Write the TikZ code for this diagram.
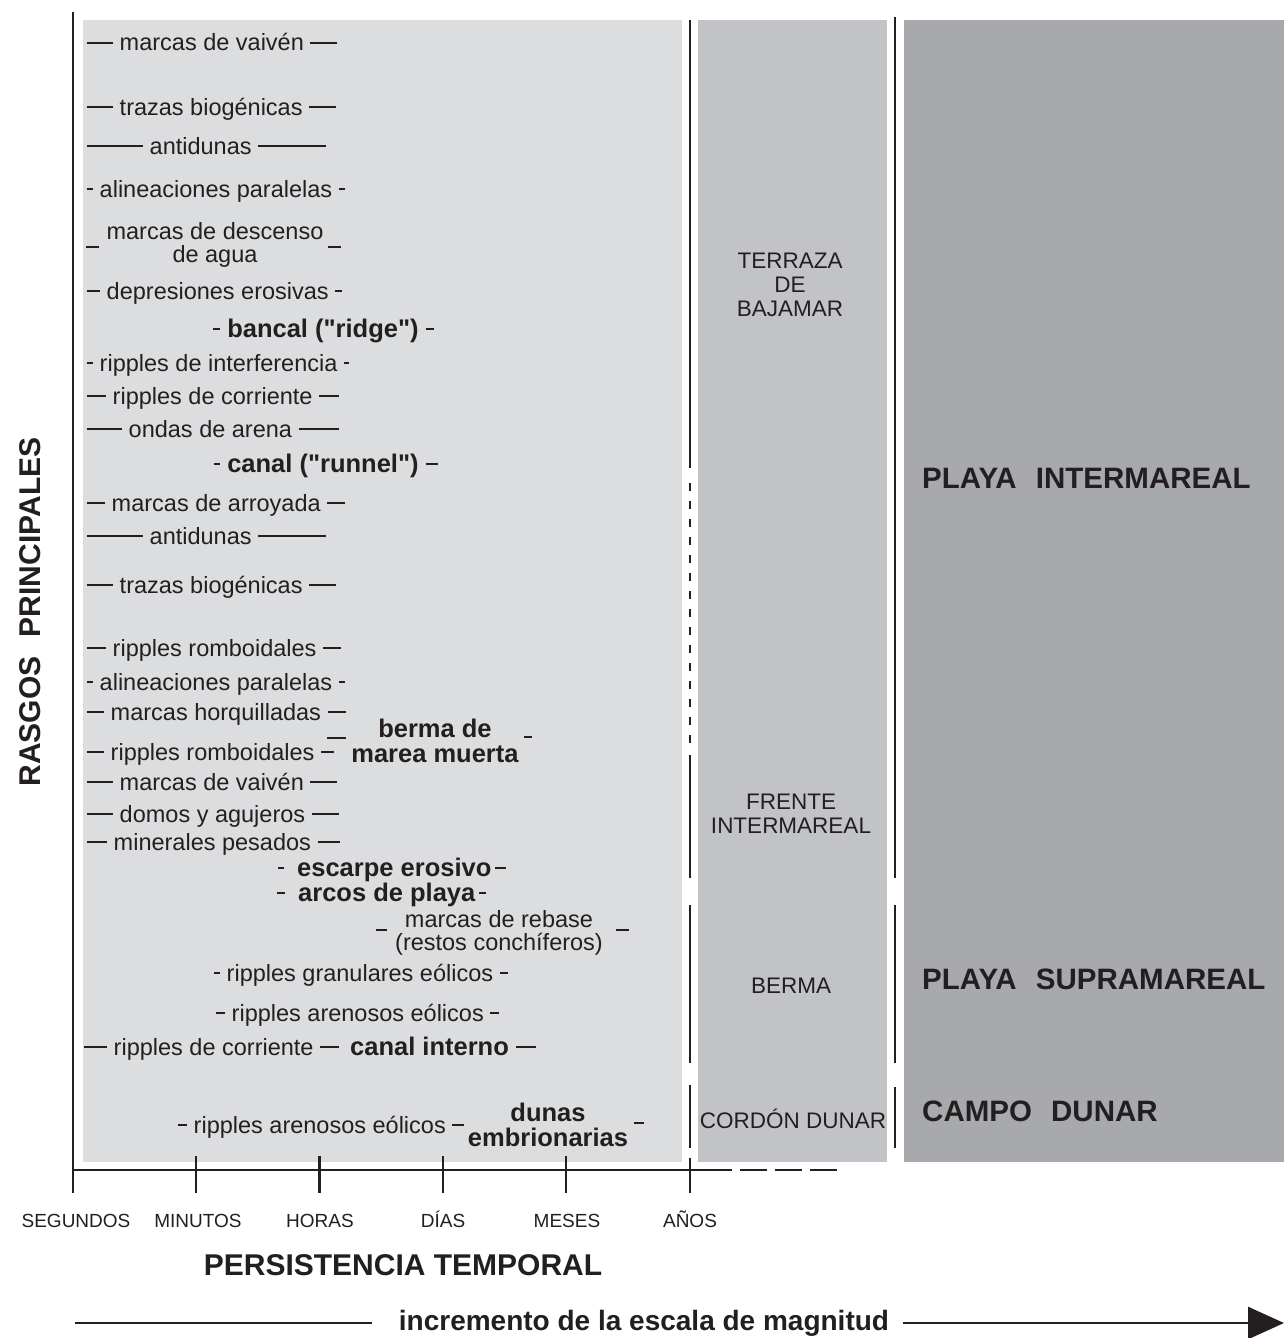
\documentclass[tikz,border=0pt]{standalone}
\usepackage{fontspec}
\setmainfont{Liberation Sans}[Ligatures=TeXOff]
\usepackage{tikz}
\usetikzlibrary{arrows.meta}
\usepackage{xcolor}

\definecolor{tinta}{RGB}{35,31,32}
\definecolor{zonaA}{RGB}{220,221,223}
\definecolor{zonaB}{RGB}{194,195,199}
\definecolor{zonaC}{RGB}{168,169,173}

\newcommand{\raya}[1]{\rule[0.3em]{#1pt}{0.08em}}

\begin{document}
\begin{tikzpicture}[x=1pt, y=-1pt,
  rasgo/.style={anchor=west, inner sep=0pt, text=tinta,
    font=\fontsize{23.5}{24}\selectfont, text height=17pt, text depth=5pt},
  rasgob/.style={anchor=west, inner sep=0pt, text=tinta,
    font=\bfseries\fontsize{25.5}{26}\selectfont, text height=18.4pt, text depth=5.4pt},
  dos/.style={inner sep=0pt, text=tinta, align=center, font=\fontsize{23.5}{23.5}\selectfont},
  dosb/.style={inner sep=0pt, text=tinta, align=center, font=\bfseries\fontsize{25.5}{25.5}\selectfont},
  zona/.style={inner sep=0pt, text=tinta, align=center, font=\fontsize{22.5}{24}\selectfont},
  playa/.style={anchor=base west, inner sep=0pt, text=tinta, font=\bfseries\fontsize{29.5}{30}\selectfont},
  escala/.style={anchor=base, inner sep=0pt, text=tinta, font=\fontsize{19}{20}\selectfont},
  eje/.style={line width=2.5pt, draw=tinta},
  guion/.style={line width=1.8pt, draw=tinta},
  corte/.style={line width=2.4pt, draw=tinta}
]

\fill[white] (0,0) rectangle (1284,1338);
\useasboundingbox (0,0) rectangle (1284,1338);

% -------------------------
% Zones
% -------------------------
\fill[zonaA] (83,20) rectangle (682,1162);
\fill[zonaB] (698,20) rectangle (887,1162);
\fill[zonaC] (904,20) rectangle (1284,1162);

% -------------------------
% Dividers
% -------------------------
\draw[corte] (690,20) -- (690,468);
\draw[corte, dash pattern=on 8pt off 10pt] (690,483) -- (690,750);
\draw[corte] (690,755) -- (690,878);
\draw[corte] (690,905) -- (690,1063);
\draw[corte] (690,1085) -- (690,1148);

\draw[corte] (895,17) -- (895,878);
\draw[corte] (895,905) -- (895,1063);
\draw[corte] (895,1087) -- (895,1148);

% -------------------------
% Axes
% -------------------------
\draw[eje] (73,12) -- (73,1193);
\draw[eje] (73,1170) -- (732,1170);
\draw[eje, dash pattern=on 27pt off 8pt] (740,1170) -- (837,1170);
\draw[eje] (690,1158) -- (690,1193);
\foreach \x in {196,319.5,443,566}
  \draw[eje] (\x,1156) -- (\x,1193);

\foreach \x/\lab [count=\i] in {76/SEGUNDOS, 198/MINUTOS, 320/HORAS, 443/DÍAS, 567/MESES, 690/AÑOS}
  \node[escala] (t\i) at (\x,1227) {\lab};

\node[anchor=base, inner sep=0pt, text=tinta, font=\bfseries\fontsize{30}{30}\selectfont]
  (persist) at (403,1275) {PERSISTENCIA TEMPORAL};

\node[rotate=90, anchor=base, inner sep=0pt, text=tinta, font=\bfseries\fontsize{30}{30}\selectfont]
  (rasgos) at (40,612) {RASGOS\hspace{0.65em}PRINCIPALES};

% -------------------------
% Magnitude arrow
% -------------------------
\node[anchor=base, inner sep=0pt, text=tinta, font=\bfseries\fontsize{28}{28}\selectfont]
  (inc) at (644,1330) {incremento de la escala de magnitud};
\coordinate (ini) at (75,1323);
\coordinate (fin) at (1284,1323);
\draw[eje, shorten >=27pt] (ini) -- (ini -| inc.west);
\draw[eje, shorten <=14pt, -{Triangle[length=36pt,width=32pt]}] (fin -| inc.east) -- (fin);

% -------------------------
% Beach zones
% -------------------------
\node[zona] (terraza) at (790,285) {TERRAZA\\DE\\BAJAMAR};
\node[zona] (frente) at (791,814) {FRENTE\\INTERMAREAL};
\node[zona, anchor=base] (bermaz) at (791,993) {BERMA};
\node[zona, anchor=base] (cordon) at (793,1128) {CORDÓN DUNAR};

\node[playa] (inter) at (922,488) {PLAYA\hspace{0.65em}INTERMAREAL};
\node[playa] (supra) at (922,989) {PLAYA\hspace{0.65em}SUPRAMAREAL};
\node[playa] (campo) at (922,1121) {CAMPO\hspace{0.65em}DUNAR};

% -------------------------
% Main features
% -------------------------
\node[rasgo] (vaiven1)    at (87,45)  {\raya{26} marcas de vaivén \raya{27}};
\node[rasgo] (trazas1)    at (87,109) {\raya{26} trazas biogénicas \raya{27}};
\node[rasgo] (antidunas1) at (87,148) {\raya{56} antidunas \raya{68}};
\node[rasgo] (alineac1)   at (87,191) {\raya{6} alineaciones paralelas \raya{6}};
\node[dos]   (descenso)   at (215,245) {marcas de descenso\\de agua};
\node[rasgo] (depres)     at (87,293) {\raya{13} depresiones erosivas \raya{7}};
\node[rasgob] (bancal)    at (213,331) {\raya{7} bancal ("ridge") \raya{8}};
\node[rasgo] (interf)     at (87,365) {\raya{6} ripples de interferencia \raya{5}};
\node[rasgo] (corriente1) at (87,398) {\raya{19} ripples de corriente \raya{20}};
\node[rasgo] (ondas)      at (87,431) {\raya{35} ondas de arena \raya{40}};
\node[rasgob] (canal)     at (214,466) {\raya{6} canal ("runnel") \raya{12}};
\node[rasgo] (arroyada)   at (87,505) {\raya{18} marcas de arroyada \raya{18}};
\node[rasgo] (antidunas2) at (87,538) {\raya{56} antidunas \raya{68}};
\node[rasgo] (trazas2)    at (87,587) {\raya{26} trazas biogénicas \raya{27}};
\node[rasgo] (romb1)      at (87,650) {\raya{19} ripples romboidales \raya{18}};
\node[rasgo] (alineac2)   at (87,684) {\raya{6} alineaciones paralelas \raya{6}};
\node[rasgo] (horq)       at (87,714) {\raya{17} marcas horquilladas \raya{18}};
\node[rasgo] (romb2)      at (87,754) {\raya{17} ripples romboidales \raya{13}};
\node[dosb]  (berma)      at (435,741) {berma de\\marea muerta};
\node[rasgo] (vaiven2)    at (87,784) {\raya{26} marcas de vaivén \raya{27}};
\node[rasgo] (domos)      at (87,816) {\raya{26} domos y agujeros \raya{27}};
\node[rasgo] (minerales)  at (87,844) {\raya{20} minerales pesados \raya{22}};
\node[rasgob] (escarpe)   at (278,870) {\raya{6}\hspace{13pt}escarpe erosivo\hspace{4pt}\raya{11}};
\node[rasgob] (arcos)     at (277,895) {\raya{8}\hspace{13pt}arcos de playa\hspace{4pt}\raya{7}};
\node[dos]   (rebase)     at (499,933) {marcas de rebase\\(restos conchíferos)};
\node[rasgo] (granul)     at (214,975) {\raya{6} ripples granulares eólicos \raya{8}};
\node[rasgo] (arenosos1)  at (216,1015) {\raya{9} ripples arenosos eólicos \raya{9}};
\node[rasgo] (corriente2) at (84,1049) {\raya{23} ripples de corriente \raya{19}};
\node[rasgob] (canalint)  at (350,1049) {canal interno \raya{20}};
\node[rasgo] (arenosos2)  at (178,1127) {\raya{9} ripples arenosos eólicos \raya{12}};
\node[dosb]  (dunas)      at (548,1125) {dunas\\embrionarias};

% -------------------------
% Side marks of two-line features
% -------------------------
\draw[guion] ([xshift=-7pt,yshift=-2pt]descenso.west) -- ++(-13,0);
\draw[guion] ([xshift=4pt,yshift=-2pt]descenso.east) -- ++(13,0);
\draw[guion] ([xshift=-5pt,yshift=3pt]berma.west) -- ++(-19,0);
\draw[guion] ([xshift=5pt,yshift=4pt]berma.east) -- ++(8,0);
\draw[guion] ([xshift=-7.5pt,yshift=3pt]rebase.west) -- ++(-11,0);
\draw[guion] ([xshift=12.5pt,yshift=3pt]rebase.east) -- ++(13,0);
\draw[guion] ([xshift=6pt,yshift=2pt]dunas.east) -- ++(10,0);

\end{tikzpicture}
\end{document}
